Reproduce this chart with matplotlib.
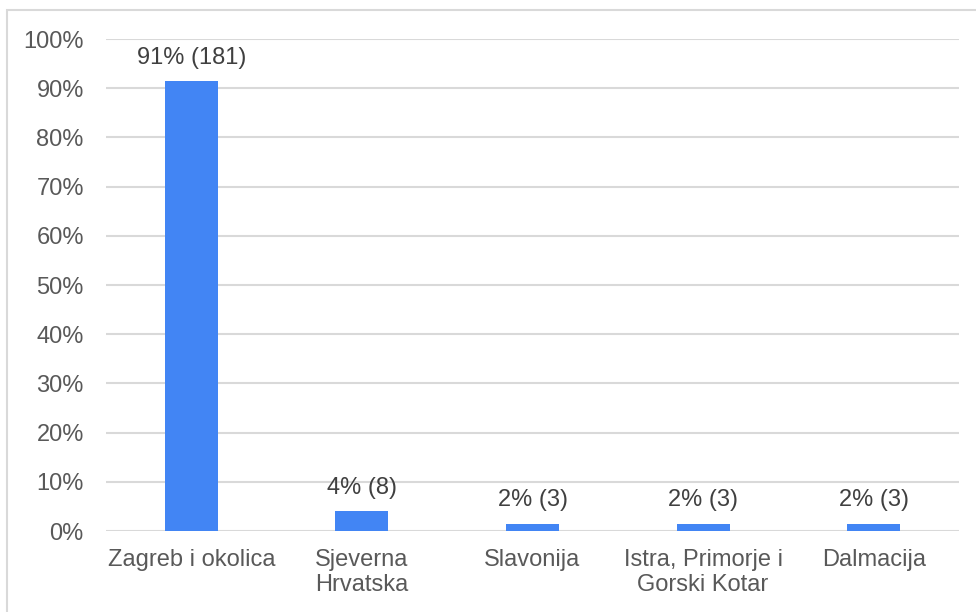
import numpy as np
import matplotlib
matplotlib.use("Agg")
from matplotlib import pyplot as plt
from matplotlib.patches import Rectangle

# ---------------------------- Dados ---------------------------- #
regije = ["Zagreb i okolica", "Sjeverna\nHrvatska", "Slavonija",
          "Istra, Primorje i\nGorski Kotar", "Dalmacija"]
broj = [181, 8, 3, 3, 3]
postotak_oznaka = [91, 4, 2, 2, 2]
ukupno = sum(broj)
udio = [b / ukupno * 100 for b in broj]
y_ticks = [0, 10, 20, 30, 40, 50, 60, 70, 80, 90, 100]

plt.rcParams["font.family"] = ["Liberation Sans", "DejaVu Sans"]

fig = plt.figure(figsize=(9.76, 6.12), dpi=100)
ax = fig.add_axes([106 / 976, 1 - 531 / 612, (959 - 106) / 976, (531 - 39) / 612])

x = np.arange(len(regije))
bars = ax.bar(x, udio, width=0.31, color="#4285f4", zorder=3)

for rect, p, b in zip(bars, postotak_oznaka, broj):
    ax.annotate(f"{p}% ({b})", (rect.get_x() + rect.get_width() / 2, rect.get_height()),
                xytext=(0, 9), textcoords="offset points", ha="center", va="bottom",
                fontsize=17, color="#404040")

ax.set_xlim(-0.5, len(regije) - 0.5)
ax.set_ylim(0, 100)
ax.set_yticks(y_ticks)
ax.set_yticklabels([f"{t}%" for t in y_ticks])
ax.set_xticks(x)
ax.set_xticklabels(regije, linespacing=1.2)
ax.tick_params(axis="both", length=0, labelsize=17, colors="#595959")
ax.tick_params(axis="y", pad=16)
ax.tick_params(axis="x", pad=13)
ax.grid(axis="y", color="#d9d9d9", linewidth=1.5, zorder=0)
for s in ax.spines.values():
    s.set_visible(False)

# okvir oko grafa
fig.patches.append(Rectangle((7 / 976, -0.1), 1.0, 1 - 10 / 612 + 0.1,
                             transform=fig.transFigure, fill=False,
                             edgecolor="#d9d9d9", linewidth=1.5))

fig.savefig("out.png", dpi=100)
